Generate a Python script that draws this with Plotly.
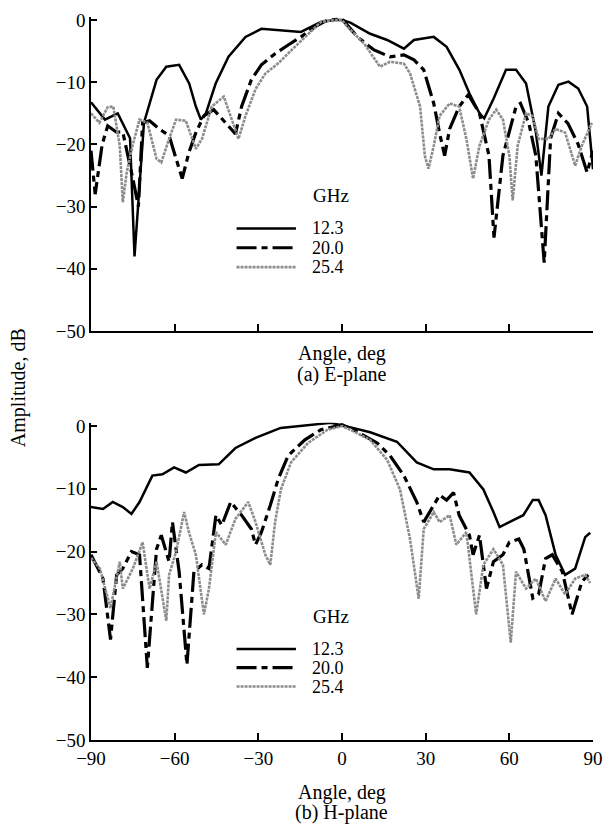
import plotly.graph_objects as go

# ---------------- data ----------------
series_names = ["12.3", "20.0", "25.4"]
x_ticks = [-90, -60, -30, 0, 30, 60, 90]
y_ticks = [0, -10, -20, -30, -40, -50]

# E-plane
e123_x = [-90, -85, -80.4, -76, -74.4, -71, -66.5, -63, -58.4, -54.8, -52.4, -50.6, -48.8, -45.3, -40.7,
          -34.6, -28.9, -21.9, -14.7, -7.6, -2.7, 0, 3, 10.1, 16.2, 22.2, 25.8, 32.9, 37.5, 42.1, 45.7,
          49.3, 51, 54.3, 58.8, 62.4, 66, 69.5, 71.5, 74, 77.6, 81.2, 84.7, 87.9, 90]
e123_y = [-13.2, -16, -15, -19, -38, -16.5, -9.6, -7.5, -7.2, -10.2, -13.9, -16, -15, -10.2, -5.9,
          -2.7, -1.4, -1.6, -1.9, -0.3, 0, 0, -0.4, -2.2, -3.2, -4.6, -3.2, -2.7, -4.3, -8, -11.8,
          -15, -15.8, -12.7, -8, -8, -10.2, -18, -25, -13.9, -10.4, -9.9, -11, -13.9, -24]

e200_x = [-90, -88.5, -86, -84, -81, -78.6, -75, -73, -71.5, -69, -65.5, -62, -57.3, -54.9, -52.4, -49.5,
          -46, -41.7, -38.2, -36, -32.5, -28.9, -24, -19.3, -14.7, -9.8, -5.2, 0, 5.5, 11.5, 17.2, 22.2,
          25.8, 29.3, 32.9, 35, 36.8, 38.6, 42, 45.3, 49.3, 52.7, 54.5, 57.7, 62.4, 64, 67, 69.5, 72.5,
          74.8, 77.6, 81, 84.7, 87.9, 90]
e200_y = [-21, -28, -20, -17, -18, -18, -25.5, -30, -16.5, -16.2, -17.5, -18.6, -25.5, -21.3, -18.1, -15.4,
          -14.4, -16.5, -18.3, -13.9, -9.6, -7.2, -5.4, -4, -2.7, -1.1, 0, 0.2, -2.7, -4.8, -5.9, -5.6,
          -6.4, -8, -13.4, -18.2, -21.8, -17.5, -13.9, -12, -15, -21.8, -35, -21.8, -13.9, -13.4, -16.6, -21.8, -39,
          -19, -15, -16.6, -20, -24.5, -21]

e254_x = [-90, -87, -84, -82, -79.7, -78.6, -77.2, -75, -72.6, -69.8, -66.5, -64.8, -62, -59.5, -56, -53.8,
          -52.4, -50.2, -46.7, -42.4, -39.6, -37.1, -34.6, -31, -27.5, -23, -16.9, -12.2, -7.6, -3, 0, 2,
          8, 13.6, 17.2, 22.2, 24.4, 28, 29.7, 31, 32.9, 35, 38.6, 42, 44.6, 47, 49.3, 52.7, 55.3, 57.7,
          60, 61.2, 63, 66, 68.3, 70.5, 74, 76.6, 80, 83.6, 86, 89.6]
e254_y = [-15, -16.5, -14, -13.9, -20.2, -29.3, -24.5, -20, -16, -16.5, -22.3, -22.9, -19.1, -16, -16.2, -19.1,
          -20.7, -19.1, -13.9, -12.3, -16, -19.1, -15.4, -11.1, -8.6, -7, -4.3, -2.2, -0.3, 0, 0, -1.1,
          -3.8, -7.5, -6.7, -7, -8.6, -13.9, -21.8, -23.9, -20.2, -15.4, -13.4, -13.9, -19.1, -25.5, -20.2, -16, -14.4, -16,
          -21.8, -29, -20.2, -15, -15.4, -19.1, -19.1, -17.5, -18.1, -23.4, -20.2, -16.5]

# H-plane
h123_x = [-90, -85.7, -82.2, -78.6, -75.5, -72.6, -68, -64.4, -60.2, -56, -51.3, -44.2, -38.2, -31, -22, -10,
          -4, 2, 10.1, 19.7, 26.8, 32.9, 38.6, 45.7, 50.7, 54.3, 56.5, 60, 65, 68.4, 70.5, 73, 76.6, 80,
          83.6, 87.2, 89]
h123_y = [-12.9, -13.2, -12.1, -12.9, -14, -12.1, -7.9, -7.7, -6.6, -7.4, -6.2, -6.1, -3.5, -1.9, -0.3, 0.3,
          0.5, -0.1, -1.0, -2.5, -5.8, -6.9, -6.9, -7.4, -10.1, -13.7, -16.1, -15.3, -14.2, -11.8, -11.8, -14.2, -20.5, -23.7,
          -22.7, -17.7, -17]

h200_x = [-90, -85.7, -83, -80.8, -78.6, -75.5, -72.6, -69.8, -66.5, -64.8, -62, -60.8, -58.4, -55.6, -53.1, -50.2,
          -47.7, -45.2, -43.1, -39.9, -36, -32.5, -31, -28.9, -25.7, -22.9, -19.3, -13.3, -7.6, -2.7, 0, 5,
          12.6, 17.2, 22.2, 26.8, 29.3, 32.9, 35, 37.5, 40, 42, 45.7, 47, 49.3, 51.8, 54.3, 57.7, 60, 63.4,
          65.2, 68.4, 70.5, 73, 75.4, 79, 82.5, 86, 88.3]
h200_y = [-20.5, -24.3, -34, -23.7, -22.7, -20, -20.5, -38.5, -19.6, -17.4, -21.6, -15.3, -23.2, -38, -23.2, -22.1,
          -22.7, -14.2, -15.8, -12.1, -14.2, -16.4, -18.9, -16.9, -12.6, -8.5, -4.7, -2.2, -0.6, 0, 0.2, -0.8,
          -2.7, -4.7, -7.9, -12.1, -15.3, -12.6, -11, -11.8, -10.6, -14.2, -17.4, -20.5, -17.4, -25.9, -21.6, -20.5, -18.5, -18,
          -19.6, -27.4, -26.8, -21.1, -20.5, -23.2, -30, -24.8, -23.7]

h254_x = [-90, -86.8, -83, -79.7, -78.6, -75, -71.5, -69, -66.5, -63, -62, -59.5, -56.6, -54.9, -52.4, -49.5,
          -47.7, -45.2, -41.7, -38.2, -33.6, -31, -27.5, -25.7, -24, -21.9, -18.3, -12.2, -5.2, 0, 3, 10.1,
          16.2, 20.8, 24.4, 27.5, 29.3, 32.9, 35, 38.6, 41, 44.6, 48.1, 50.7, 54.3, 57.7, 60.5, 62.4, 66, 69.5,
          73, 76.6, 80, 83.6, 87.2, 89]
h254_y = [-21, -22.7, -29, -21.6, -25.9, -22.7, -18.5, -25.9, -21.6, -31, -23.7, -20, -13.7, -16.9, -20.5, -30,
          -25.9, -16.9, -18.9, -14.8, -12.1, -15.3, -20.5, -22.1, -15.3, -10.1, -5.8, -2.7, -0.6, 0, -0.6, -2.2,
          -5.4, -10.1, -18, -27.5, -16.4, -13.7, -15.3, -14.2, -18.9, -16.9, -30, -22.1, -19.6, -22.1, -34.5, -23.2, -25.9, -24.3,
          -27.9, -24.3, -26.8, -24.3, -23.7, -25]

# ---------------- styles & layout ----------------
FONT = "Liberation Serif, Times New Roman, serif"
styles = [
    dict(color="black", width=2.5, dash="solid"),
    dict(color="black", width=3.2, dash="20px,5px,6px,5px"),
    dict(color="#8c8c8c", width=2.6, dash="3px,1px"),
]

W, H = 613, 835
ML, MR, MT, MB = 91, 15, 10, 95
PW, PH = W - ML - MR, H - MT - MB


def px_x(px):
    return (px - ML) / PW


def px_y(py):
    return (H - MB - py) / PH


fig = go.Figure()
top = [(e123_x, e123_y), (e200_x, e200_y), (e254_x, e254_y)]
bot = [(h123_x, h123_y), (h200_x, h200_y), (h254_x, h254_y)]
for i, (xs, ys) in enumerate(top):
    fig.add_trace(go.Scatter(x=xs, y=ys, mode="lines", name=series_names[i], line=styles[i],
                             xaxis="x", yaxis="y", showlegend=False))
for i, (xs, ys) in enumerate(bot):
    fig.add_trace(go.Scatter(x=xs, y=ys, mode="lines", name=series_names[i], line=styles[i],
                             xaxis="x2", yaxis="y2", showlegend=False))

tickfont = dict(family=FONT, size=19, color="black")
axis_common = dict(range=[-90, 90], tickvals=x_ticks, ticks="inside", ticklen=7, tickwidth=1.5,
                   tickcolor="black", showline=True, linecolor="black", linewidth=1.5,
                   showgrid=False, zeroline=False, tickfont=tickfont)
yaxis_common = dict(range=[-50, 0.5], tickvals=y_ticks, ticks="inside", ticklen=6, tickwidth=1.5,
                    tickcolor="black", showline=True, linecolor="black", linewidth=1.5,
                    showgrid=False, zeroline=False, tickfont=tickfont)

top_dom = [px_y(327), 1.0]
bot_dom = [0.0, px_y(419.8)]

# legend drawn as key lines + labels (paper coordinates)
shapes = []
annotations = []
legend_rows = {"top": (190, [223.5, 243, 262.5]), "bot": (615, [648, 667, 686])}
for key, (ghz_y, rows) in legend_rows.items():
    annotations.append(dict(text="GHz", x=px_x(313), y=px_y(ghz_y), xref="paper", yref="paper",
                            xanchor="left", yanchor="middle", showarrow=False,
                            font=dict(family=FONT, size=19, color="black")))
    for i, ry in enumerate(rows):
        st = styles[i]
        shapes.append(dict(type="line", xref="paper", yref="paper",
                           x0=px_x(238), x1=px_x(298), y0=px_y(ry), y1=px_y(ry),
                           line=dict(color=st["color"], width=st["width"], dash=st["dash"])))
        annotations.append(dict(text=series_names[i], x=px_x(312), y=px_y(ry), xref="paper", yref="paper",
                                xanchor="left", yanchor="middle", showarrow=False,
                                font=dict(family=FONT, size=18, color="black")))

title_font = dict(family=FONT, size=20, color="black")
for txt, py in [("Angle, deg", 350), ("(a) E-plane", 371), ("Angle, deg", 793), ("(b) H-plane", 813)]:
    annotations.append(dict(text=txt, x=px_x(344), y=px_y(py), xref="paper", yref="paper",
                            xanchor="center", yanchor="middle", showarrow=False, font=title_font))
annotations.append(dict(text="Amplitude, dB", x=px_x(18), y=px_y(384), xref="paper", yref="paper",
                        xanchor="center", yanchor="middle", textangle=-90, showarrow=False,
                        font=title_font))

fig.update_layout(
    width=W, height=H,
    margin=dict(l=ML, r=MR, t=MT, b=MB),
    paper_bgcolor="white", plot_bgcolor="white",
    font=dict(family=FONT, size=19, color="black"),
    xaxis=dict(axis_common, domain=[0, 1], anchor="y", showticklabels=False),
    yaxis=dict(yaxis_common, domain=top_dom, anchor="x"),
    xaxis2=dict(axis_common, domain=[0, 1], anchor="y2", showticklabels=True),
    yaxis2=dict(yaxis_common, domain=bot_dom, anchor="x2"),
    shapes=shapes,
    annotations=annotations,
    showlegend=False,
)

fig.write_html("out.html", config={"displayModeBar": False},
               post_script="document.body.style.margin='0px';")
